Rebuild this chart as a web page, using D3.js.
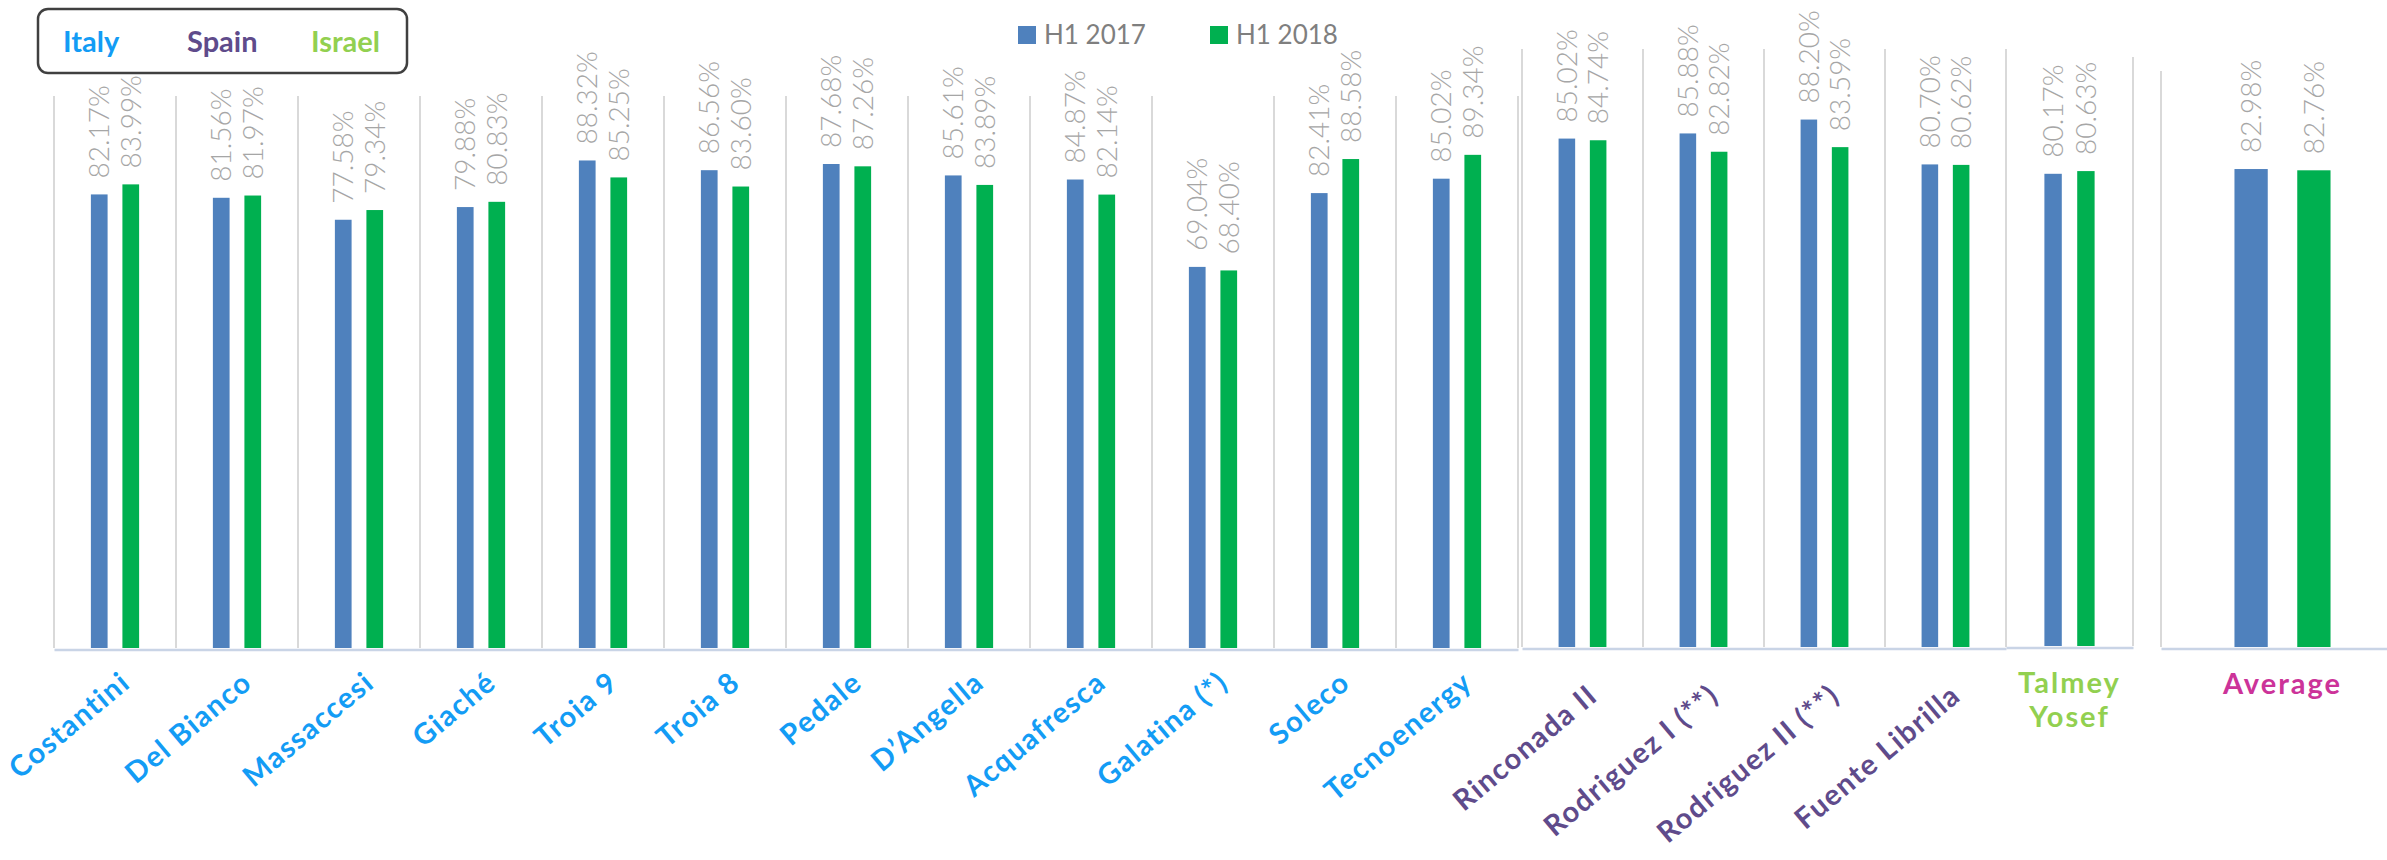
<!DOCTYPE html>
<html>
<head>
<meta charset="utf-8">
<script src="https://cdn.jsdelivr.net/npm/d3@7"></script>
<style>
  body { margin: 0; background: #fff; }
  svg { display: block; font-family: Lato, "Open Sans", sans-serif; }
</style>
</head>
<body>
<svg id="chart" width="2387" height="860"></svg>
<script>
const series = ["H1 2017", "H1 2018"];

const italyCats = ["Costantini", "Del Bianco", "Massaccesi", "Giaché", "Troia 9", "Troia 8",
  "Pedale", "D’Angella", "Acquafresca", "Galatina (*)", "Soleco", "Tecnoenergy"];
const italy2017 = [82.17, 81.56, 77.58, 79.88, 88.32, 86.56, 87.68, 85.61, 84.87, 69.04, 82.41, 85.02];
const italy2018 = [83.99, 81.97, 79.34, 80.83, 85.25, 83.60, 87.26, 83.89, 82.14, 68.40, 88.58, 89.34];

const spainCats = ["Rinconada II", "Rodriguez I (**)", "Rodriguez II (**)", "Fuente Librilla"];
const spain2017 = [85.02, 85.88, 88.20, 80.70];
const spain2018 = [84.74, 82.82, 83.59, 80.62];

const israelCats = ["Talmey Yosef"];
const israel2017 = [80.17];
const israel2018 = [80.63];

const avgCats = ["Average"];
const avg2017 = [82.98];
const avg2018 = [82.76];

const countries = ["Italy", "Spain", "Israel"];

const seriesColor = d3.scaleOrdinal().domain(series).range(["#4F81BD", "#00B050"]);
const countryColor = d3.scaleOrdinal().domain([...countries, "Average"])
  .range(["#139CF5", "#5F4B8B", "#92D050", "#CC3399"]);

const svg = d3.select("#chart");

// one small chart per country, plus the average
const panels = [
  { key: "Italy",   cats: italyCats,  v17: italy2017,  v18: italy2018,  left: 54,   right: 1518, top: 96, base: 648, rotate: true, ly: 36 },
  { key: "Spain",   cats: spainCats,  v17: spain2017,  v18: spain2018,  left: 1522, right: 2006, top: 49, base: 647, rotate: true, ly: 50 },
  { key: "Israel",  cats: israelCats, v17: israel2017, v18: israel2018, left: 2006, right: 2133, top: 57, base: 646, rotate: false },
  { key: "Average", cats: avgCats,    v17: avg2017,    v18: avg2018,    left: 2161, right: 2404, top: 71, base: 647, rotate: false }
];

panels.forEach(p => {
  const rows = p.cats.map((c, i) => ({ cat: c, vals: [p.v17[i], p.v18[i]] }));

  const x0 = d3.scaleBand().domain(p.cats).range([p.left, p.right]);
  const x1 = d3.scaleBand().domain(series).range([0, x0.bandwidth()])
    .paddingInner(0.47).paddingOuter(1.17);
  const y = d3.scaleLinear().domain([0, 100]).range([p.base, p.top]);

  const g = svg.append("g").attr("class", "panel");

  // vertical gridlines between categories
  const gx = p.cats.map(c => x0(c)).concat(p.key === "Average" ? [] : [p.right]);
  g.append("g").selectAll("line")
    .data(gx)
    .join("line")
    .attr("x1", d => d).attr("x2", d => d)
    .attr("y1", y(100)).attr("y2", p.base)
    .attr("stroke", "#D9D9D9")
    .attr("stroke-width", 2);

  // bars
  const cg = g.append("g").selectAll("g")
    .data(rows)
    .join("g")
    .attr("transform", d => `translate(${x0(d.cat)},0)`);

  cg.selectAll("rect")
    .data(d => d.vals.map((v, i) => ({ s: series[i], v })))
    .join("rect")
    .attr("x", d => x1(d.s))
    .attr("width", x1.bandwidth())
    .attr("y", d => y(d.v))
    .attr("height", d => y(0) - y(d.v))
    .attr("fill", d => seriesColor(d.s));

  // value labels
  cg.selectAll("text")
    .data(d => d.vals.map((v, i) => ({ s: series[i], v })))
    .join("text")
    .attr("transform", d => `translate(${x1(d.s) + x1.bandwidth() / 2},${y(d.v) - 16}) rotate(-90)`)
    .attr("dy", "0.36em")
    .attr("fill", "#A6A6A6")
    .attr("font-size", 28)
    .attr("font-weight", 300)
    .text(d => d.v.toFixed(2) + "%");

  // category axis
  const ax = g.append("g")
    .attr("transform", `translate(0,${p.base + 1.5})`)
    .call(d3.axisBottom(x0).tickSize(0).tickSizeOuter(0));
  ax.select(".domain").attr("stroke", "#C9D4E6").attr("stroke-width", 2.5);

  const lbl = ax.selectAll(".tick text")
    .attr("fill", countryColor(p.key))
    .attr("font-family", "Lato, sans-serif")
    .attr("font-weight", 700);

  if (p.rotate) {
    lbl.attr("x", 0).attr("y", 0).attr("dy", 0)
      .attr("font-size", 29)
      .attr("letter-spacing", 1.5)
      .attr("text-anchor", "end")
      .attr("transform", `translate(17,${p.ly}) rotate(-40)`);
  } else {
    lbl.attr("text-anchor", "middle").attr("y", 0).attr("dy", 0)
      .attr("font-size", 29)
      .attr("letter-spacing", 2)
      .each(function (d) {
        const words = d.split(" ");
        const t = d3.select(this).text(null);
        words.forEach((w, i) => {
          t.append("tspan").attr("x", 0).attr("y", 45 + i * 34).text(w);
        });
      });
  }
});

// country key box, top left
const box = svg.append("g").attr("transform", "translate(38,9)");
box.append("rect")
  .attr("width", 369).attr("height", 64).attr("rx", 10)
  .attr("fill", "#fff").attr("stroke", "#404040").attr("stroke-width", 2.5);
const boxX = d3.scalePoint().domain(countries).range([25, 273]);
box.selectAll("text")
  .data(countries)
  .join("text")
  .attr("x", d => boxX(d))
  .attr("y", 43)
  .attr("font-size", 29)
  .attr("font-weight", 700)
  .attr("fill", d => countryColor(d))
  .text(d => d);

// series legend, top centre
const legX = d3.scalePoint().domain(series).range([1018, 1210]);
const leg = svg.append("g").selectAll("g")
  .data(series)
  .join("g")
  .attr("transform", d => `translate(${legX(d)},26)`);
leg.append("rect").attr("width", 18).attr("height", 18).attr("fill", d => seriesColor(d));
leg.append("text")
  .attr("x", 26).attr("y", 18)
  .attr("font-size", 26)
  .attr("fill", "#7F7F7F")
  .text(d => d);
</script>
</body>
</html>
